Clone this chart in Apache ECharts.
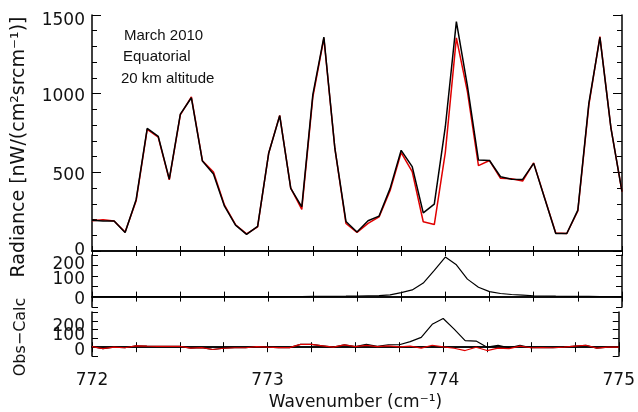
<!DOCTYPE html>
<html>
<head>
<meta charset="utf-8">
<script src="https://cdn.jsdelivr.net/npm/echarts@6/dist/echarts.min.js"></script>
<style>html,body{margin:0;padding:0;background:#fff;}#c{width:638px;height:412px;}</style>
</head>
<body>
<div id="c"></div>
<script>
// ---- data ----
const wavenumber = [772, 772.0625, 772.125, 772.1875, 772.25, 772.3125, 772.375, 772.4375, 772.5, 772.5625,
  772.625, 772.6875, 772.75, 772.8125, 772.875, 772.9375, 773, 773.0625, 773.125, 773.1875,
  773.25, 773.3125, 773.375, 773.4375, 773.5, 773.5625, 773.625, 773.6875, 773.75, 773.8125,
  773.875, 773.9375, 774, 774.0625, 774.125, 774.1875, 774.25, 774.3125, 774.375, 774.4375,
  774.5, 774.5625, 774.625, 774.6875, 774.75, 774.8125, 774.875, 774.9375, 775];
const observed = [196,191,191,117,328,779,728,457,870,974,
  572,489,285,164,106,157,621,860,398,281,
  994,1360,650,188,121,192,222,398,640,536,
  242,298,790,1458,1050,578,575,472,456,455,
  557,334,111,111,260,940,1358,781,377];
const calculated = [193,199,191,120,320,773,723,452,865,979,
  574,502,291,167,109,154,621,862,400,265,
  978,1352,650,175,118,176,217,384,626,504,
  186,168,627,1355,1013,543,575,462,459,445,
  560,336,114,111,254,929,1363,781,377];
const lineContribution = [0,0,0,0,0,0,0,0,0,0,
  0,0,0,0,0,0,0,0,0.5,0.5,
  1,1,1.5,2,3,4,5,8,19,32,
  65,126,190,153,84,45,24,15,10,7,
  4,3,2,1.5,1,1,0.5,0.5,0];
const residualBlack = [3,-8,0,-3,8,6,5,5,5,-5,
  -2,-13,-6,-3,-3,3,0,-2,-2,16,
  16,8,0,13,3,16,5,14,14,32,
  56,130,163,103,37,35,0,10,-3,10,
  -3,-2,-3,0,6,11,-5,0,0];
const residualRed = [3,-8,0,-3,8,6,5,5,5,-5,
  -2,-13,-6,-3,-3,3,0,-2,-2,16,
  16,8,0,13,3,10,3,8,2,6,
  -5,11,2,-6,-19,0,-19,-5,-8,6,
  -3,-2,-3,0,6,11,-5,0,0];
const xTickValues = [772, 773, 774, 775];
const xTickLabels = ['772', '773', '774', '775'];
const yTopTickValues = [0, 500, 1000, 1500];
const yTopTickLabels = ['0', '500', '1000', '1500'];
const ySmallTickValues = [0, 100, 200];
const ySmallTickLabels = ['0', '100', '200'];
const annotationLines = ['March 2010', 'Equatorial', '20 km altitude'];
const xTitle = 'Wavenumber (cm\u207B\u00B9)';
const yTitleTop = 'Radiance [nW/(cm\u00B2srcm\u207B\u00B9)]';
const yTitleBottom = 'Obs\u2212Calc';

// ---- chart ----
const FONT = 'DejaVu Sans';
const TXT = '#111';
const pairs = ys => wavenumber.map((w, i) => [w, ys[i]]);
const frame = {show: true, lineStyle: {color: '#000', width: 1.5}};

function xAxis(gi, pos, labels) {
  return {
    type: 'value', gridIndex: gi, position: pos, min: 772, max: 775, interval: 0.25,
    axisLine: frame,
    axisTick: {show: true, inside: true, length: 5, lineStyle: {color: '#000', width: 1}},
    splitLine: {show: false},
    axisLabel: labels ? {
      show: true, margin: 16, color: TXT, fontFamily: FONT, fontSize: 17,
      formatter: v => { const k = xTickValues.indexOf(v); return k >= 0 ? xTickLabels[k] : ''; }
    } : {show: false},
    name: labels ? xTitle : '', nameLocation: 'middle', nameGap: 38,
    nameTextStyle: {color: TXT, fontFamily: FONT, fontSize: 17}
  };
}
// shifted label: padding-top p moves the text down by p/2
function richLabel(map) {
  const rich = {};
  Object.keys(map).forEach(k => {
    rich['s' + k] = {padding: [map[k] * 2, 0, 0, 0], fontFamily: FONT, fontSize: 17, color: TXT};
  });
  return rich;
}
function yAxisTop(pos, labels) {
  const shifts = {0: 0, 500: 3, 1000: 3, 1500: 6};
  return {
    type: 'value', gridIndex: 0, position: pos, min: 0, max: 1500, interval: 500,
    axisLine: frame,
    axisTick: {show: true, inside: true, length: 9, lineStyle: {color: '#000', width: 1}},
    minorTick: {show: true, splitNumber: 5, length: 5, lineStyle: {color: '#000', width: 1}},
    splitLine: {show: false}, minorSplitLine: {show: false},
    axisLabel: labels ? {
      show: true, margin: 7, color: TXT, fontFamily: FONT, fontSize: 17,
      formatter: v => {
        const k = yTopTickValues.indexOf(v); if (k < 0) return '';
        return '{s' + v + '|' + yTopTickLabels[k] + '}';
      },
      rich: richLabel(shifts)
    } : {show: false}
  };
}
function yAxisSmall(gi, pos, labels, shifts) {
  return {
    type: 'value', gridIndex: gi, position: pos, min: -50, max: 200, interval: 50,
    axisLine: frame,
    axisTick: {show: true, inside: true, length: 6, lineStyle: {color: '#000', width: 1}},
    splitLine: {show: false},
    axisLabel: labels ? {
      show: true, margin: 7, color: TXT, fontFamily: FONT, fontSize: 17,
      formatter: v => {
        const k = ySmallTickValues.indexOf(v); if (k < 0) return '';
        return '{s' + v + '|' + ySmallTickLabels[k] + '}';
      },
      rich: richLabel(shifts)
    } : {show: false}
  };
}

const lineSeries = (name, xi, yi, data, color, width, z) => ({
  name, type: 'line', xAxisIndex: xi, yAxisIndex: yi, data: pairs(data),
  showSymbol: false, symbol: 'none', animation: false, silent: true, z,
  lineStyle: {color, width}
});

const chart = echarts.init(document.getElementById('c'), null, {renderer: 'canvas'});
chart.setOption({
  backgroundColor: '#fff',
  animation: false,
  grid: [
    {left: 92, right: 16, top: 15, height: 236},
    {left: 92, right: 16, top: 255, height: 52},
    {left: 92, right: 16, top: 312, height: 52}
  ],
  xAxis: [
    xAxis(0, 'bottom', false), xAxis(0, 'top', false),
    xAxis(1, 'bottom', false), xAxis(1, 'top', false),
    xAxis(2, 'bottom', true), xAxis(2, 'top', false)
  ],
  yAxis: [
    yAxisTop('left', true), yAxisTop('right', false),
    yAxisSmall(1, 'left', true, {0: 3, 100: 4, 200: 10}), yAxisSmall(1, 'right', false, {}),
    yAxisSmall(2, 'left', true, {0: 3, 100: 6, 200: 15}), yAxisSmall(2, 'right', false, {})
  ],
  series: [
    lineSeries('calc', 0, 0, calculated, '#e00000', 1.5, 2),
    lineSeries('obs', 0, 0, observed, '#000', 1.5, 3),
    lineSeries('line', 2, 2, lineContribution, '#000', 1.2, 3),
    lineSeries('resid1', 4, 4, residualBlack, '#000', 1.2, 2),
    lineSeries('resid2', 4, 4, residualRed, '#e00000', 1.2, 3)
  ],
  graphic: [
    {type: 'text', x: 124, y: 36, style: {text: annotationLines[0], font: '15px "Liberation Sans"', fill: TXT, verticalAlign: 'middle'}},
    {type: 'text', x: 123, y: 57, style: {text: annotationLines[1], font: '15px "Liberation Sans"', fill: TXT, verticalAlign: 'middle'}},
    {type: 'text', x: 121, y: 79, style: {text: annotationLines[2], font: '15px "Liberation Sans"', fill: TXT, verticalAlign: 'middle'}},
    {type: 'text', x: 19, y: 147, rotation: Math.PI / 2, style: {text: yTitleTop, font: '19px "DejaVu Sans"', fill: TXT, align: 'center', verticalAlign: 'middle'}},
    {type: 'text', x: 21, y: 337, rotation: Math.PI / 2, style: {text: yTitleBottom, font: '16px "DejaVu Sans"', fill: TXT, align: 'center', verticalAlign: 'middle'}}
  ]
});
</script>
</body>
</html>
